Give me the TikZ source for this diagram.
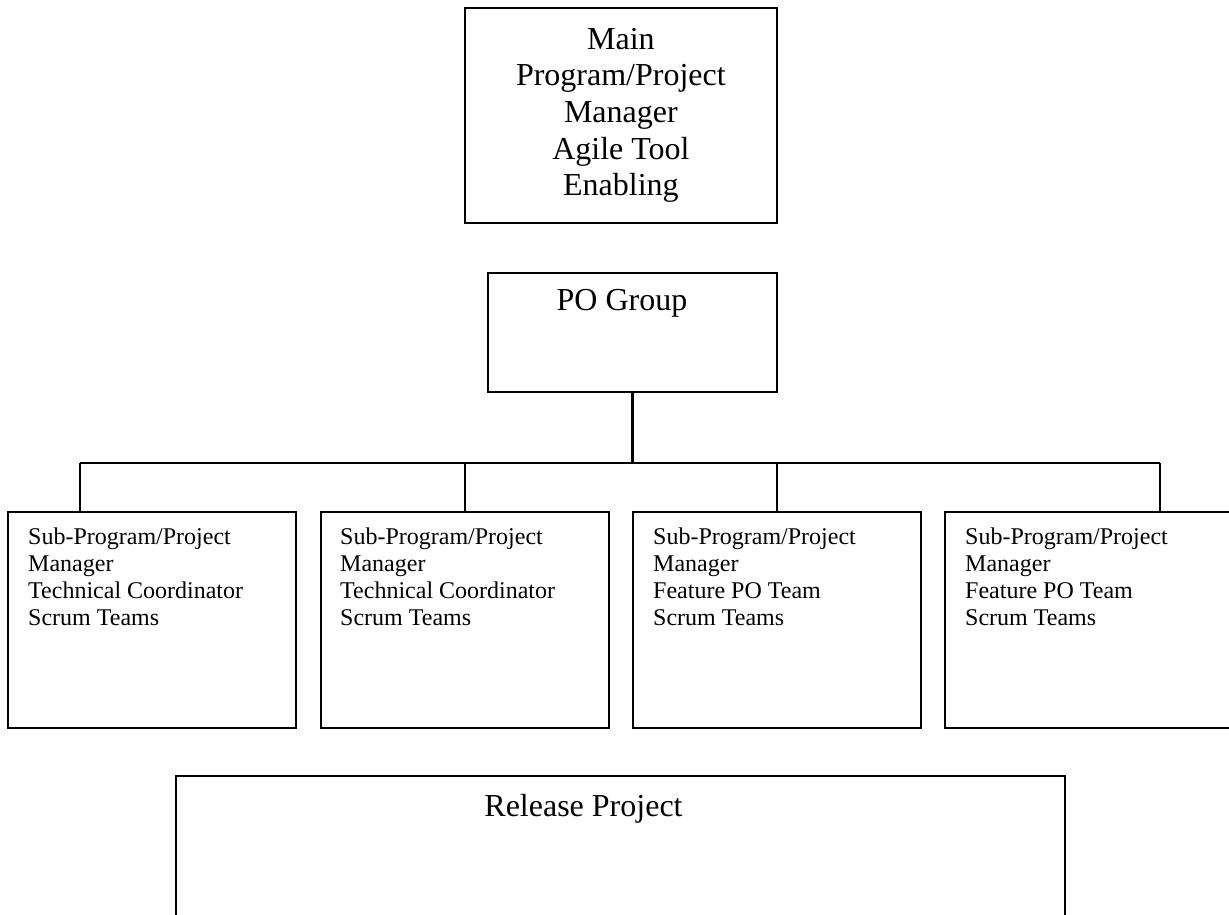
\documentclass[tikz,border=0pt]{standalone}
\usepackage{fontspec}
\setmainfont{Liberation Serif}
\begin{document}
\begin{tikzpicture}[x=1pt,y=-1pt,
  box/.style={draw=black, line width=1.8pt, rectangle, inner sep=0pt, anchor=north west},
  subbox/.style={box, minimum width=288pt, minimum height=216pt},
  conn/.style={draw=black, line width=2.4pt},
  bigtext/.style={font=\fontsize{32}{36.7}\selectfont, inner sep=0pt},
  smalltext/.style={font=\fontsize{24}{27}\selectfont, align=left, inner sep=0pt, anchor=north west}]
  \useasboundingbox (0,0) rectangle (1229,914);
  \clip (0,0) rectangle (1229,914);

  % top level
  \node[box, minimum width=312pt, minimum height=215pt, bigtext, align=center] (main) at (464,7)
    {Main\\Program/Project\\Manager\\Agile Tool\\Enabling};

  % product owner group
  \node[box, minimum width=289pt, minimum height=119pt] (po) at (487,272) {};
  \node[bigtext, anchor=base] (pot) at (622,310) {PO Group};

  % sub-programs
  \node[subbox] (sp1) at (7,511) {};
  \node[subbox] (sp2) at (320,511) {};
  \node[subbox] (sp3) at (632,511) {};
  \node[subbox] (sp4) at (944,511) {};

  \node[smalltext] (sp1t) at ([shift={(21,16.5)}]sp1.north west)
    {Sub-Program/Project\\Manager\\Technical Coordinator\\Scrum Teams};
  \node[smalltext] (sp2t) at ([shift={(20,16.5)}]sp2.north west)
    {Sub-Program/Project\\Manager\\Technical Coordinator\\Scrum Teams};
  \node[smalltext] (sp3t) at ([shift={(21,16.5)}]sp3.north west)
    {Sub-Program/Project\\Manager\\Feature PO Team\\Scrum Teams};
  \node[smalltext] (sp4t) at ([shift={(21,16.5)}]sp4.north west)
    {Sub-Program/Project\\Manager\\Feature PO Team\\Scrum Teams};

  % release project
  \node[box, minimum width=889pt, minimum height=220pt] (rel) at (175,775) {};
  \node[bigtext, anchor=base] (relt) at (583.5,816) {Release Project};

  % connectors
  \coordinate (busL) at (80,463);
  \coordinate (busR) at (1160,463);
  \draw[conn] (po.south) -- (po.south |- busL);
  \draw[conn] (busL) -- (busR);
  \draw[conn] (busL) -- (busL |- sp1.north);
  \draw[conn] (sp2.north |- busL) -- (sp2.north);
  \draw[conn] (sp3.north |- busL) -- (sp3.north);
  \draw[conn] (busR) -- (busR |- sp4.north);
\end{tikzpicture}
\end{document}
